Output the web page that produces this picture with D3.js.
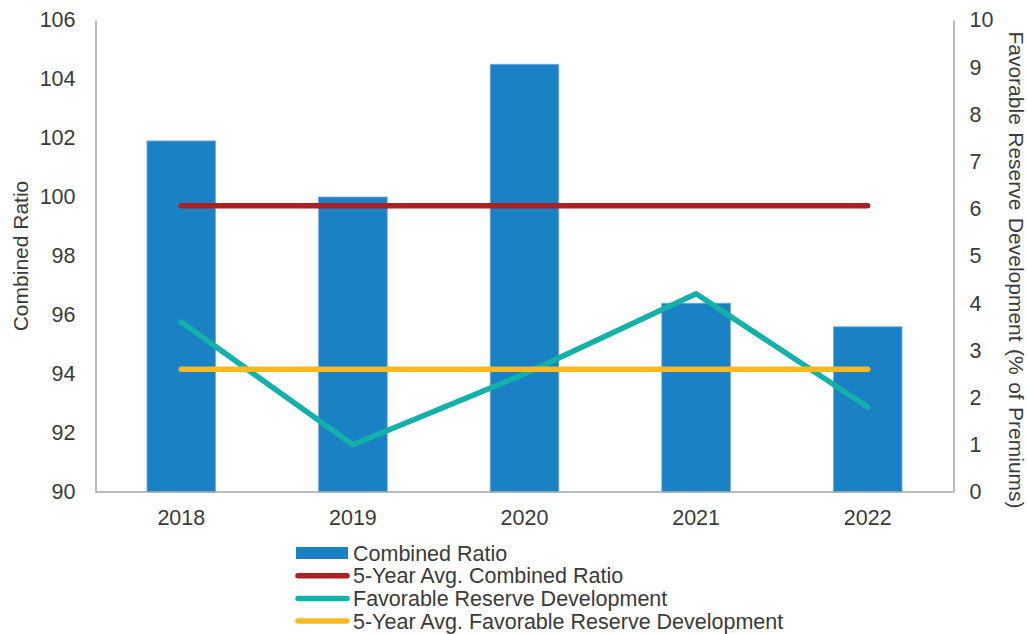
<!DOCTYPE html>
<html>
<head>
<meta charset="utf-8">
<script src="https://cdn.jsdelivr.net/npm/d3@7"></script>
<style>
  html, body { margin: 0; padding: 0; background: #fff; }
  svg { display: block; font-family: "Liberation Sans", Arial, sans-serif; }
</style>
</head>
<body>
<svg id="chart" width="1027" height="634"></svg>
<script>
// Data
const years = ["2018", "2019", "2020", "2021", "2022"];
const combinedRatio = [101.9, 100.0, 104.5, 96.4, 95.6];
const avgCombinedRatio = [99.7, 99.7, 99.7, 99.7, 99.7];
const reserveDev = [3.6, 1.0, 2.5, 4.2, 1.8];
const avgReserveDev = [2.6, 2.6, 2.6, 2.6, 2.6];
const leftTicks = [90, 92, 94, 96, 98, 100, 102, 104, 106];
const rightTicks = [0, 1, 2, 3, 4, 5, 6, 7, 8, 9, 10];
const legendLabels = ["Combined Ratio", "5-Year Avg. Combined Ratio", "Favorable Reserve Development", "5-Year Avg. Favorable Reserve Development"];

const colors = {
  bar: "#1a81c4",
  red: "#ab2024",
  teal: "#14b1aa",
  yellow: "#fbb920",
  axis: "#a6a6a6",
  text: "#3a3a3a"
};

const svg = d3.select("#chart");
const plot = { left: 95.5, right: 953.5, top: 20, bottom: 492 };
const fontSize = 21.5;

const x = d3.scaleBand().domain(years).range([plot.left, plot.right]).paddingInner(0.6).paddingOuter(0.3);
const yL = d3.scaleLinear().domain([90, 106]).range([plot.bottom, plot.top]);
const yR = d3.scaleLinear().domain([0, 10]).range([plot.bottom, plot.top]);
const cx = d => x(d) + x.bandwidth() / 2;

// Bars
svg.append("g").selectAll("rect").data(years).join("rect")
  .attr("x", d => x(d))
  .attr("width", x.bandwidth())
  .attr("y", (d, i) => yL(combinedRatio[i]))
  .attr("height", (d, i) => yL(90) - yL(combinedRatio[i]))
  .attr("fill", colors.bar)
  .attr("stroke", "#6fb1de")
  .attr("stroke-width", 0.8);

// Lines
function drawLine(values, scale, color) {
  const line = d3.line().x((d, i) => cx(years[i])).y(d => scale(d));
  svg.append("path").datum(values)
    .attr("d", line)
    .attr("fill", "none")
    .attr("stroke", color)
    .attr("stroke-width", 5.5)
    .attr("stroke-linecap", "round")
    .attr("stroke-linejoin", "round");
}
drawLine(avgCombinedRatio, yL, colors.red);
drawLine(reserveDev, yR, colors.teal);
drawLine(avgReserveDev, yR, colors.yellow);

// Axes
const axisL = d3.axisLeft(yL).tickValues(leftTicks).tickSize(0).tickPadding(20);
const gL = svg.append("g").attr("transform", `translate(${plot.left},0)`).call(axisL);
const axisR = d3.axisRight(yR).tickValues(rightTicks).tickSize(0).tickPadding(16);
const gR = svg.append("g").attr("transform", `translate(${plot.right},0)`).call(axisR);
const axisB = d3.axisBottom(x).tickSize(0).tickPadding(18);
const gB = svg.append("g").attr("transform", `translate(0,${plot.bottom})`).call(axisB);

[gL, gR, gB].forEach(g => {
  g.select(".domain").attr("stroke", colors.axis).attr("stroke-width", 1.5);
  g.selectAll("text").attr("fill", colors.text).attr("font-size", fontSize)
    .attr("font-family", "'Liberation Sans', Arial, sans-serif");
});
gB.select(".domain").attr("d", `M${plot.left},0H${plot.right}`);

// Axis titles
svg.append("text")
  .attr("transform", `translate(28,${(plot.top + plot.bottom) / 2}) rotate(-90)`)
  .attr("text-anchor", "middle")
  .attr("fill", colors.text)
  .attr("font-size", 21)
  .text("Combined Ratio");

svg.append("text")
  .attr("transform", `translate(1009,270) rotate(90)`)
  .attr("text-anchor", "middle")
  .attr("fill", colors.text)
  .attr("font-size", 21)
  .attr("word-spacing", 1.6)
  .text("Favorable Reserve Development (% of Premiums)");

// Legend
const legend = svg.append("g").attr("transform", "translate(296,553)");
const rowH = 22.7;
legendLabels.forEach((label, i) => {
  const g = legend.append("g").attr("transform", `translate(0,${i * rowH})`);
  if (i === 0) {
    g.append("rect").attr("x", 0).attr("y", -6).attr("width", 52).attr("height", 12).attr("fill", colors.bar);
  } else {
    const c = [null, colors.red, colors.teal, colors.yellow][i];
    g.append("line").attr("x1", 2).attr("x2", 51).attr("y1", 0).attr("y2", 0)
      .attr("stroke", c).attr("stroke-width", 5.5).attr("stroke-linecap", "round");
  }
  g.append("text").attr("x", 57).attr("y", 0).attr("dy", "0.35em")
    .attr("fill", colors.text).attr("font-size", fontSize).text(label);
});
</script>
</body>
</html>
